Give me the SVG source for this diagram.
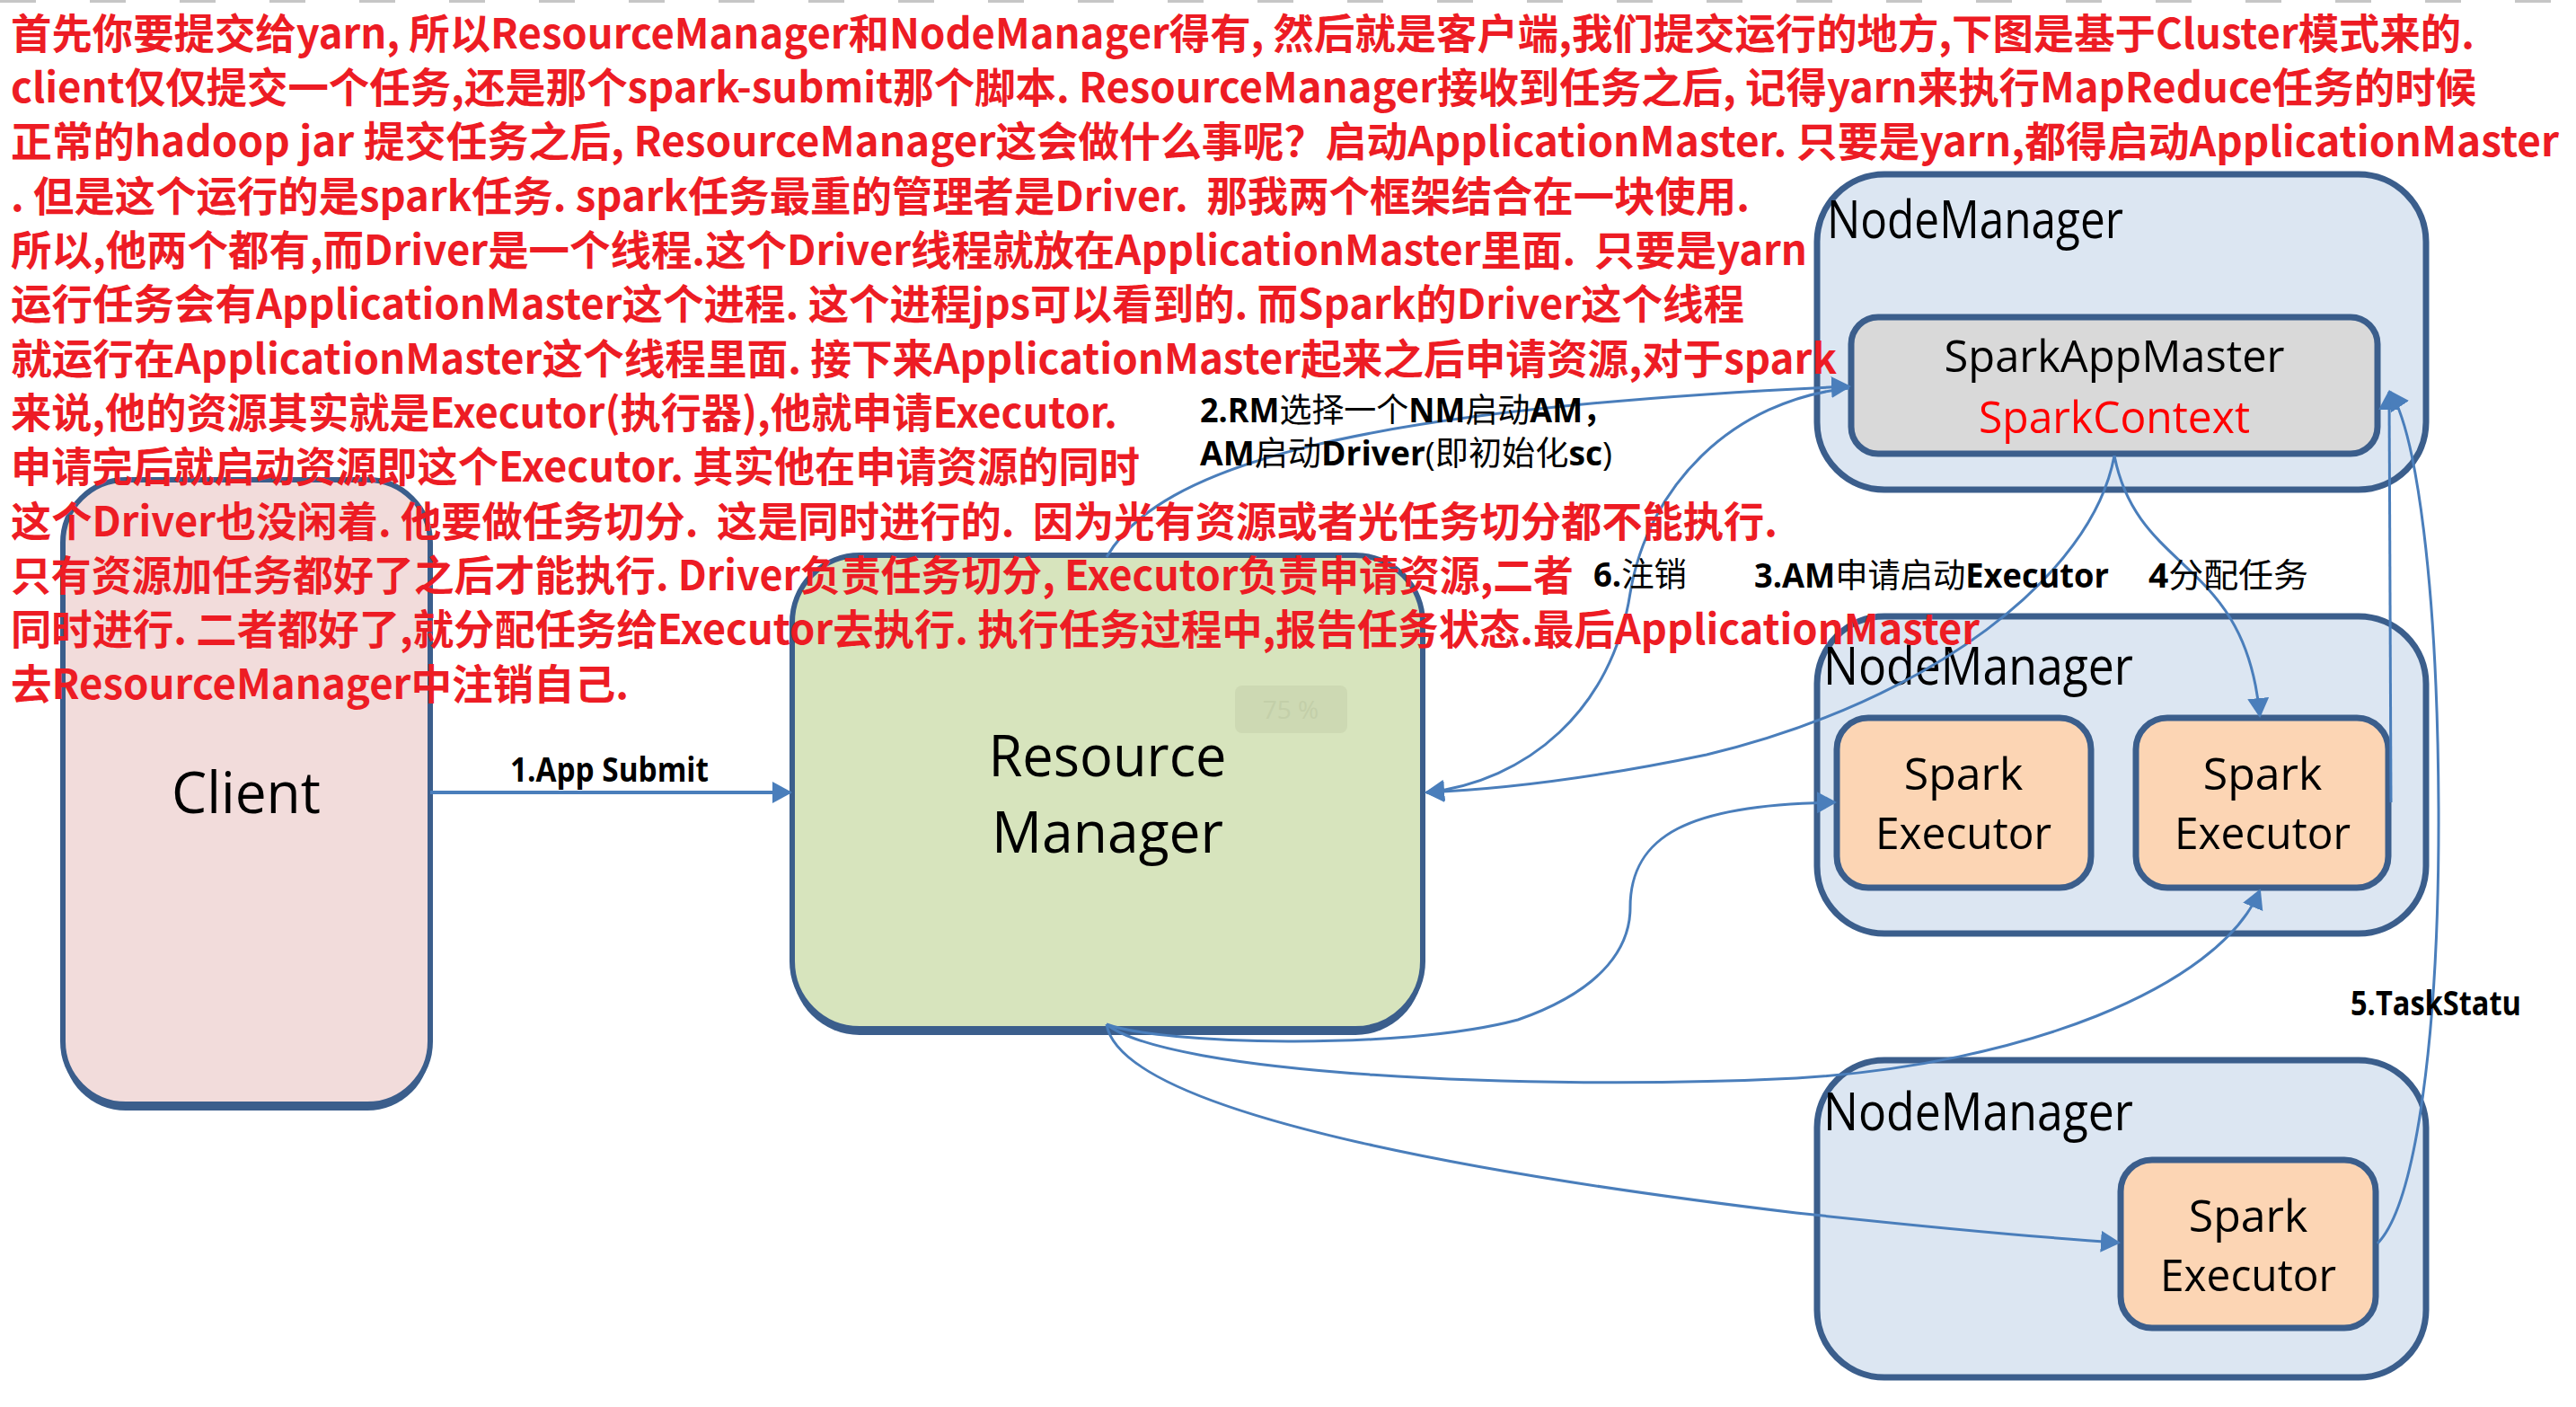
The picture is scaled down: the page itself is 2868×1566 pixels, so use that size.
<svg xmlns="http://www.w3.org/2000/svg" width="2868" height="1566" viewBox="0 0 2868 1566">
<style>
.box{stroke:#3b5e8c;stroke-width:6}
.in{stroke:#3b5e8c;stroke-width:7}
.nm{fill:#dce6f2;stroke:#3b5e8c;stroke-width:7}
.ex{fill:#fcd5b4}
.lbl{font-family:"Open Sans","Liberation Sans",sans-serif;fill:#000}
.red{font-family:"Noto Sans CJK SC","Noto Sans",sans-serif;font-weight:700;font-size:46px;fill:#ed1c24;white-space:pre}
.cl{font-family:"Open Sans","Noto Sans CJK SC",sans-serif;font-size:37px;fill:#000}
.b{font-weight:700}
.con{fill:none;stroke:#4a7ebb;stroke-width:3}
</style>
<defs>
<marker id="ah" viewBox="0 0 22 24" refX="20" refY="12" markerWidth="22" markerHeight="24" markerUnits="userSpaceOnUse" orient="auto">
<path d="M0,0 L22,12 L0,24 z" fill="#4a7ebb"/>
</marker>
</defs>
<rect width="2868" height="1566" fill="#fff"/>
<line x1="0" y1="1.5" x2="2868" y2="1.5" stroke="#c6c6c6" stroke-width="3" stroke-dasharray="40 60"/>

<g id="client">
<rect x="70" y="541" width="409" height="695" rx="70" fill="#3b5e8c"/>
<rect class="box" x="70" y="534" width="409" height="695" rx="70" fill="#f2dcdb"/>
<text class="lbl" x="274" y="905" font-size="64" text-anchor="middle" textLength="166" lengthAdjust="spacingAndGlyphs">Client</text>
</g>

<g id="resource-manager">
<rect x="882" y="625" width="702" height="527" rx="75" fill="#3b5e8c"/>
<rect class="box" x="882" y="618" width="702" height="527" rx="75" fill="#d7e4bd"/>
<rect x="1375" y="763" width="125" height="53" rx="8" fill="#cdd9b3"/>
<text x="1437" y="800" font-family="Open Sans,sans-serif" font-size="28" text-anchor="middle" fill="#c3cfa9">75 %</text>
<text class="lbl" x="1233" y="864" font-size="64" text-anchor="middle" textLength="265" lengthAdjust="spacingAndGlyphs">Resource</text>
<text class="lbl" x="1233" y="949" font-size="64" text-anchor="middle" textLength="258" lengthAdjust="spacingAndGlyphs">Manager</text>
</g>

<g id="nodemanager-1">
<rect class="nm" x="2023" y="194" width="678" height="351" rx="75"/>
<text class="lbl" x="2034" y="265" font-size="58" textLength="330" lengthAdjust="spacingAndGlyphs">NodeManager</text>
</g>
<g id="spark-app-master">
<rect class="in" x="2061" y="353" width="586" height="152" rx="30" fill="#d9d9d9"/>
<text class="lbl" x="2354" y="414" font-size="50" text-anchor="middle" textLength="379" lengthAdjust="spacingAndGlyphs">SparkAppMaster</text>
<text class="lbl" x="2354" y="482" font-size="50" text-anchor="middle" textLength="302" lengthAdjust="spacingAndGlyphs" style="fill:#ff0000">SparkContext</text>
</g>

<g id="nodemanager-2">
<rect class="nm" x="2023" y="686" width="678" height="353" rx="75"/>
<text class="lbl" x="2030" y="762" font-size="58" textLength="345" lengthAdjust="spacingAndGlyphs">NodeManager</text>
</g>
<g id="executor-a">
<rect class="in ex" x="2045" y="799" width="283" height="189" rx="35"/>
<text class="lbl" x="2186" y="879" font-size="50" text-anchor="middle">Spark</text>
<text class="lbl" x="2186" y="945" font-size="50" text-anchor="middle" textLength="196" lengthAdjust="spacingAndGlyphs">Executor</text>
</g>
<g id="executor-b">
<rect class="in ex" x="2378" y="799" width="281" height="189" rx="35"/>
<text class="lbl" x="2519" y="879" font-size="50" text-anchor="middle">Spark</text>
<text class="lbl" x="2519" y="945" font-size="50" text-anchor="middle" textLength="196" lengthAdjust="spacingAndGlyphs">Executor</text>
</g>

<g id="nodemanager-3">
<rect class="nm" x="2023" y="1180" width="678" height="353" rx="75"/>
<text class="lbl" x="2030" y="1258" font-size="58" textLength="345" lengthAdjust="spacingAndGlyphs">NodeManager</text>
</g>
<g id="executor-c">
<rect class="in ex" x="2361" y="1291" width="284" height="187" rx="35"/>
<text class="lbl" x="2503" y="1371" font-size="50" text-anchor="middle">Spark</text>
<text class="lbl" x="2503" y="1437" font-size="50" text-anchor="middle" textLength="196" lengthAdjust="spacingAndGlyphs">Executor</text>
</g>

<g id="connectors">
<path class="con" style="stroke-width:4" d="M479,882 L880,882" marker-end="url(#ah)"/>
<path class="con" d="M1232,620 C1290,520 1500,455 2059,430" marker-end="url(#ah)"/>
<path class="con" d="M2059,432 C1930,445 1835,540 1815,660 C1795,790 1700,870 1588,882" marker-end="url(#ah)"/>
<path class="con" d="M2354,507 C2330,640 2150,780 1900,840 C1780,865 1680,878 1588,882" marker-end="url(#ah)"/>
<path class="con" d="M2354,507 C2380,640 2500,620 2516,797" marker-end="url(#ah)"/>
<path class="con" d="M2662,893 L2660,436" marker-end="url(#ah)"/>
<path class="con" d="M2647,1384 C2690,1340 2716,1150 2715,900 C2714,650 2690,480 2661,436" marker-end="url(#ah)"/>
<path class="con" d="M1232,1140 C1290,1162 1560,1170 1690,1135 C1790,1100 1815,1050 1815,1010 C1815,930 1880,895 2043,893" marker-end="url(#ah)"/>
<path class="con" d="M1232,1140 C1300,1195 1700,1215 2000,1200 C2250,1185 2470,1100 2516,991" marker-end="url(#ah)"/>
<path class="con" d="M1232,1140 C1250,1250 1750,1320 2000,1350 C2150,1366 2280,1378 2359,1383" marker-end="url(#ah)"/>
</g>

<g id="connector-labels">
<text class="cl b" x="568" y="870" font-size="35" textLength="221" lengthAdjust="spacingAndGlyphs">1.App Submit</text>
<text class="cl" x="1336" y="470" textLength="462" lengthAdjust="spacingAndGlyphs"><tspan class="b">2.RM</tspan>选择一个<tspan class="b">NM</tspan>启动<tspan class="b">AM，</tspan></text>
<text class="cl" x="1336" y="518" textLength="459" lengthAdjust="spacingAndGlyphs"><tspan class="b">AM</tspan>启动<tspan class="b">Driver</tspan>(即初始化<tspan class="b">sc</tspan>)</text>
<text class="cl" x="1774" y="653" font-size="34" textLength="104" lengthAdjust="spacingAndGlyphs"><tspan class="b">6.</tspan>注销</text>
<text class="cl" x="1953" y="654" textLength="395" lengthAdjust="spacingAndGlyphs"><tspan class="b">3.AM</tspan>申请启动<tspan class="b">Executor</tspan></text>
<text class="cl" x="2392" y="654" textLength="178" lengthAdjust="spacingAndGlyphs"><tspan class="b">4</tspan>分配任务</text>
<text class="cl b" x="2617" y="1130" textLength="190" lengthAdjust="spacingAndGlyphs">5.TaskStatu</text>
</g>

<g id="notes">
<text class="red" x="12" y="54" textLength="2743" lengthAdjust="spacingAndGlyphs">首先你要提交给yarn, 所以ResourceManager和NodeManager得有, 然后就是客户端,我们提交运行的地方,下图是基于Cluster模式来的.</text>
<text class="red" x="12" y="114" textLength="2745" lengthAdjust="spacingAndGlyphs">client仅仅提交一个任务,还是那个spark-submit那个脚本. ResourceManager接收到任务之后, 记得yarn来执行MapReduce任务的时候</text>
<text class="red" x="12" y="174" textLength="2837" lengthAdjust="spacingAndGlyphs">正常的hadoop jar 提交任务之后, ResourceManager这会做什么事呢？启动ApplicationMaster. 只要是yarn,都得启动ApplicationMaster</text>
<text class="red" x="12" y="235" textLength="1936" lengthAdjust="spacingAndGlyphs">. 但是这个运行的是spark任务. spark任务最重的管理者是Driver.  那我两个框架结合在一块使用.</text>
<text class="red" x="12" y="295" textLength="2000" lengthAdjust="spacingAndGlyphs">所以,他两个都有,而Driver是一个线程.这个Driver线程就放在ApplicationMaster里面.  只要是yarn</text>
<text class="red" x="12" y="355" textLength="1930" lengthAdjust="spacingAndGlyphs">运行任务会有ApplicationMaster这个进程. 这个进程jps可以看到的. 而Spark的Driver这个线程</text>
<text class="red" x="12" y="416" textLength="2033" lengthAdjust="spacingAndGlyphs">就运行在ApplicationMaster这个线程里面. 接下来ApplicationMaster起来之后申请资源,对于spark</text>
<text class="red" x="12" y="476" textLength="1232" lengthAdjust="spacingAndGlyphs">来说,他的资源其实就是Executor(执行器),他就申请Executor.</text>
<text class="red" x="12" y="536" textLength="1257" lengthAdjust="spacingAndGlyphs">申请完后就启动资源即这个Executor. 其实他在申请资源的同时</text>
<text class="red" x="12" y="597" textLength="1967" lengthAdjust="spacingAndGlyphs">这个Driver也没闲着. 他要做任务切分.  这是同时进行的.  因为光有资源或者光任务切分都不能执行.</text>
<text class="red" x="12" y="657" textLength="1740" lengthAdjust="spacingAndGlyphs">只有资源加任务都好了之后才能执行. Driver负责任务切分, Executor负责申请资源,二者</text>
<text class="red" x="12" y="717" textLength="2192" lengthAdjust="spacingAndGlyphs">同时进行. 二者都好了,就分配任务给Executor去执行. 执行任务过程中,报告任务状态.最后ApplicationMaster</text>
<text class="red" x="12" y="778" textLength="688" lengthAdjust="spacingAndGlyphs">去ResourceManager中注销自己.</text>
</g>
</svg>
